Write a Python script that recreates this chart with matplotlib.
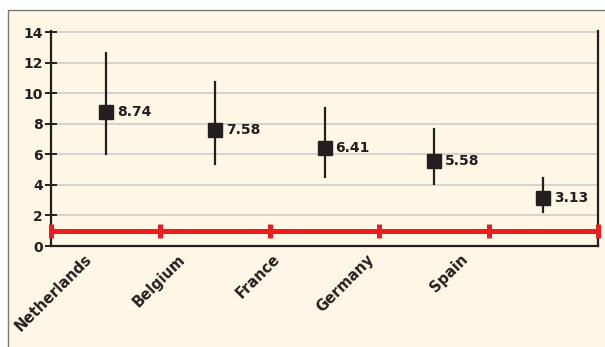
import matplotlib
matplotlib.use("Agg")
import matplotlib.pyplot as plt
import matplotlib.transforms as mtransforms
from matplotlib.patches import Rectangle

countries = ["Netherlands", "Belgium", "France", "Germany", "Spain"]
values = [8.74, 7.58, 6.41, 5.58, 3.13]
ci_low = [6.02, 5.36, 4.51, 4.03, 2.20]
ci_high = [12.64, 10.73, 9.03, 7.65, 4.43]
reference = 1.0

dark = "#231f20"
red = "#ed1c24"
cream = "#fff7e5"

W, H = 605, 347
fig = plt.figure(figsize=(W / 100, H / 100), dpi=100, facecolor="white")

# cream panel with grey border on top and left
panel = Rectangle((7.5 / W, -0.1), 1.2, (H - 10.5) / H + 0.1,
                  transform=fig.transFigure, facecolor=cream,
                  edgecolor="#7a7a7a", linewidth=1.0, zorder=-10)
fig.add_artist(panel)

ax = fig.add_axes([51 / W, (H - 246) / H, (598 - 51) / W, (246 - 31) / H])
ax.set_facecolor("none")
ax.set_zorder(1)

xs = list(range(len(countries)))
ax.set_xlim(-0.5, len(countries) - 0.5)
ax.set_ylim(0, 14.07)

ax.set_yticks(range(0, 15, 2))
ax.yaxis.grid(True, color="#cccccc", linewidth=1.2)
ax.set_axisbelow(True)

for s in ["left", "right", "bottom"]:
    ax.spines[s].set_color(dark)
    ax.spines[s].set_linewidth(1.6)
ax.spines["top"].set_visible(False)

ax.tick_params(axis="y", direction="inout", length=8, width=1.4, color=dark,
               labelsize=10, labelcolor=dark, pad=2)
ax.tick_params(axis="x", length=0, pad=4)
for lab in ax.get_yticklabels():
    lab.set_fontweight("bold")

ax.set_xticks(xs)
ax.set_xticklabels(countries, rotation=45, ha="right", va="top",
                   rotation_mode="anchor", fontsize=10.5, fontweight="bold",
                   color=dark)
# the slanted names sit a little left of their columns, drifting further
# left towards the right side of the chart
for i, lab in enumerate(ax.get_xticklabels()):
    shift = -(22 + 15.2 * i) / 100
    lab.set_transform(lab.get_transform() +
                      mtransforms.ScaledTranslation(shift, 0, fig.dpi_scale_trans))

# reference line at 1 with tick marks between categories
edges = [x - 0.5 for x in xs] + [xs[-1] + 0.5]
ax.plot(edges, [reference] * len(edges), color=red, linewidth=3.6,
        marker="|", markersize=10.5, markeredgewidth=3.6,
        clip_on=False, zorder=5)

# point estimates with confidence intervals
for x, v, lo, hi in zip(xs, values, ci_low, ci_high):
    ax.plot([x, x], [lo, hi], color=dark, linewidth=1.6, zorder=3)
    ax.plot(x, v, marker="s", markersize=9.5, color=dark, zorder=4)
    ax.annotate(f"{v:.2f}", (x, v), xytext=(8, 0), textcoords="offset points",
                ha="left", va="center", fontsize=10, fontweight="bold",
                color=dark)

fig.savefig("out.png", dpi=100, facecolor=fig.get_facecolor())
